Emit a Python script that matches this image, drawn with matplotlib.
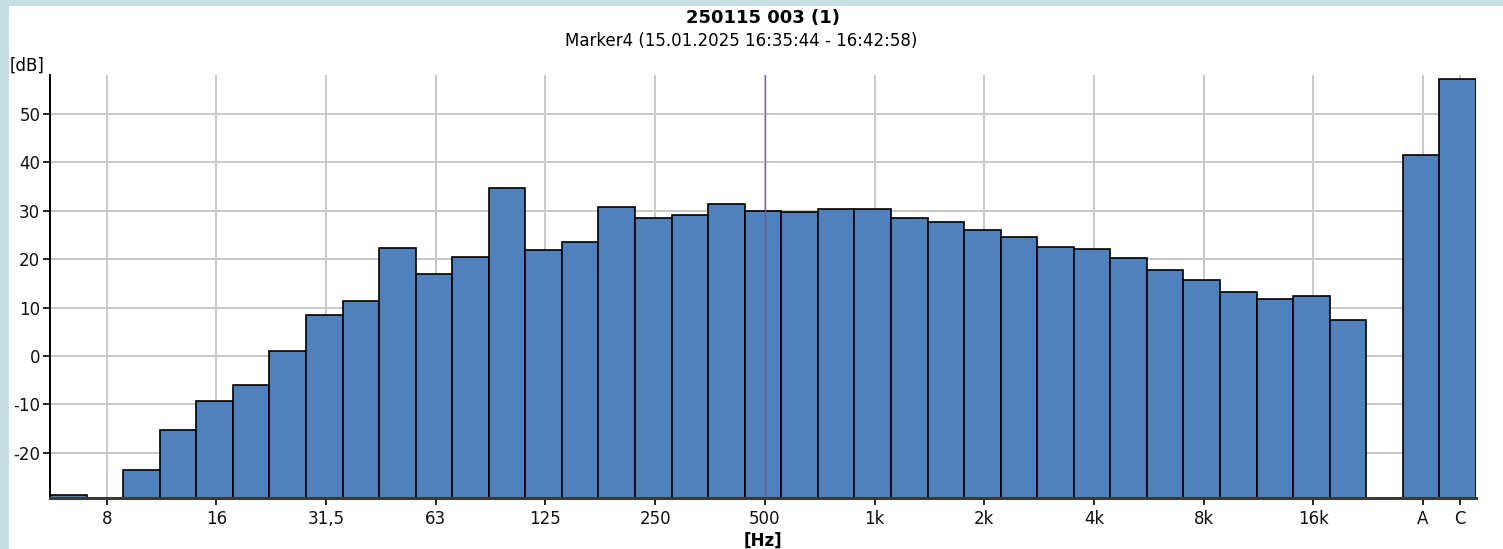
import numpy as np
import matplotlib
matplotlib.use("Agg")
import matplotlib.pyplot as plt
from matplotlib.patches import Rectangle

# Third-octave band levels (dB), 6.3 Hz .. 20 kHz, followed by the A and C totals
bands = ["6.3", "8", "10", "12.5", "16", "20", "25", "31.5", "40", "50", "63", "80",
         "100", "125", "160", "200", "250", "315", "400", "500", "630", "800",
         "1k", "1.25k", "1.6k", "2k", "2.5k", "3.15k", "4k", "5k", "6.3k", "8k",
         "10k", "12.5k", "16k", "20k"]
band_levels = [-28.7, np.nan, -23.5, -15.4, -9.4, -5.9, 1.0, 8.5, 11.3, 22.3, 17.0, 20.5,
               34.8, 21.9, 23.5, 30.8, 28.6, 29.1, 31.4, 30.0, 29.8, 30.4,
               30.4, 28.6, 27.6, 26.1, 24.5, 22.5, 22.0, 20.2, 17.7, 15.6,
               13.3, 11.8, 12.3, 7.4]
weighted = ["A", "C"]
weighted_levels = [41.6, 57.2]

tick_bands = ["8", "16", "31.5", "63", "125", "250", "500", "1k", "2k", "4k", "8k", "16k"]
tick_text = ["8", "16", "31,5", "63", "125", "250", "500", "1k", "2k", "4k", "8k", "16k"]
y_ticks = [-20, -10, 0, 10, 20, 30, 40, 50]

title = "250115 003 (1)"
subtitle = "Marker4 (15.01.2025 16:35:44 - 16:42:58)"
marker_band = "500"

y_floor, y_top = -29.35, 58.05
bar_color = "#4f81bd"
grid_color = "#c8c8c8"

plt.rcParams["font.family"] = ["DejaVu Sans"]
plt.rcParams["axes.unicode_minus"] = False

fig = plt.figure(figsize=(15.03, 5.49), dpi=100)
fig.patch.set_facecolor("#c6dfe6")
fig.patches.append(Rectangle((9 / 1503, 0), 1, 1 - 6 / 549, transform=fig.transFigure,
                             facecolor="white", edgecolor="none", zorder=-10))

ax = fig.add_axes([50 / 1503, 1 - 498 / 549, 1426 / 1503, 423 / 549])
ax.set_facecolor("white")

# bar slots: bands, one empty slot, then A and C
x_bands = np.arange(len(bands))
x_weighted = len(bands) + 1 + np.arange(len(weighted))
levels = np.array(band_levels, dtype=float)

ax.bar(x_bands, levels - y_floor, bottom=y_floor, width=1.0, color=bar_color,
       edgecolor="black", linewidth=1.2, zorder=3)
ax.bar(x_weighted, np.array(weighted_levels) - y_floor, bottom=y_floor, width=1.0,
       color=bar_color, edgecolor="black", linewidth=1.2, zorder=3)

shift = 0.05
xt = [bands.index(b) + shift for b in tick_bands] + list(x_weighted + shift)
ax.set_xticks(xt)
ax.set_xticklabels(tick_text + weighted)
ax.set_yticks(y_ticks)
ax.set_xlim(-0.5, len(bands) + 1 + len(weighted) - 0.5)
ax.set_ylim(y_floor, y_top)

ax.grid(True, color=grid_color, linewidth=1.4, zorder=0)
ax.set_axisbelow(True)

# marker cursor
ax.axvline(bands.index(marker_band) + shift, color="#6e5590", linewidth=1.0,
           alpha=0.85, zorder=4)

for s in ["top", "right"]:
    ax.spines[s].set_visible(False)
ax.spines["left"].set_linewidth(1.4)
ax.spines["left"].set_color("black")
ax.spines["bottom"].set_linewidth(2.2)
ax.spines["bottom"].set_color("#3a3a3a")
ax.spines["bottom"].set_zorder(5)

ax.tick_params(axis="both", direction="out", length=5, width=1.2, color="black",
               labelsize=12, labelcolor="#111111")
ax.tick_params(axis="x", pad=4)
ax.tick_params(axis="y", pad=2)

fig.text(763 / 1503, 1 - 18 / 549, title, ha="center", va="center",
         fontsize=13, fontweight="bold")
fig.text(741 / 1503, 1 - 41 / 549, subtitle, ha="center", va="center", fontsize=12)
fig.text(10 / 1503, 1 - 66 / 549, "[dB]", ha="left", va="center", fontsize=12)
fig.text(763 / 1503, 1 - 541 / 549, "[Hz]", ha="center", va="center",
         fontsize=12, fontweight="bold")

fig.savefig("out.png", dpi=100, facecolor=fig.get_facecolor())
